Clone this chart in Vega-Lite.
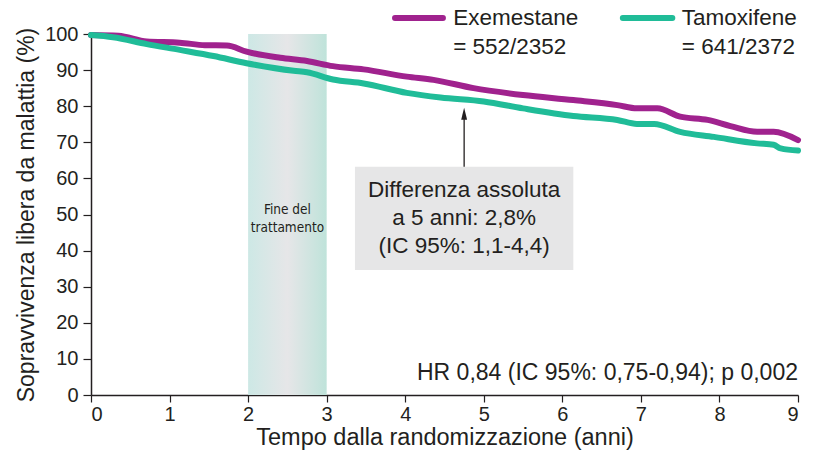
{
  "$schema": "https://vega.github.io/schema/vega-lite/v6.json",
  "width": 707,
  "height": 361,
  "autosize": "none",
  "padding": {"left": 91, "top": 34, "right": 35, "bottom": 64},
  "background": "white",
  "config": {"view": {"stroke": null}, "font": "Liberation Sans"},
  "datasets": {
    "curves": [
      {"arm": "Exemestane", "t": 0, "v": 99.7},
      {"arm": "Exemestane", "t": 0.35, "v": 99.5},
      {"arm": "Exemestane", "t": 0.71, "v": 97.9},
      {"arm": "Exemestane", "t": 1.13, "v": 97.6},
      {"arm": "Exemestane", "t": 1.45, "v": 96.9},
      {"arm": "Exemestane", "t": 1.73, "v": 96.8},
      {"arm": "Exemestane", "t": 1.98, "v": 95.1},
      {"arm": "Exemestane", "t": 2.41, "v": 93.4},
      {"arm": "Exemestane", "t": 2.75, "v": 92.5},
      {"arm": "Exemestane", "t": 3.08, "v": 91.1},
      {"arm": "Exemestane", "t": 3.47, "v": 90.2},
      {"arm": "Exemestane", "t": 4.02, "v": 88.2},
      {"arm": "Exemestane", "t": 4.36, "v": 87.3},
      {"arm": "Exemestane", "t": 4.87, "v": 85.0},
      {"arm": "Exemestane", "t": 5.5, "v": 83.1},
      {"arm": "Exemestane", "t": 6.14, "v": 81.7},
      {"arm": "Exemestane", "t": 6.7, "v": 80.3},
      {"arm": "Exemestane", "t": 6.95, "v": 79.4},
      {"arm": "Exemestane", "t": 7.21, "v": 79.4},
      {"arm": "Exemestane", "t": 7.5, "v": 77.1},
      {"arm": "Exemestane", "t": 7.85, "v": 76.2},
      {"arm": "Exemestane", "t": 8.14, "v": 74.5},
      {"arm": "Exemestane", "t": 8.48, "v": 72.9},
      {"arm": "Exemestane", "t": 8.69, "v": 72.9},
      {"arm": "Exemestane", "t": 9.0, "v": 70.6},
      {"arm": "Tamoxifene", "t": 0, "v": 99.7},
      {"arm": "Tamoxifene", "t": 0.28, "v": 99.1},
      {"arm": "Tamoxifene", "t": 0.71, "v": 97.2},
      {"arm": "Tamoxifene", "t": 1.13, "v": 95.6},
      {"arm": "Tamoxifene", "t": 1.56, "v": 93.9},
      {"arm": "Tamoxifene", "t": 1.98, "v": 91.9},
      {"arm": "Tamoxifene", "t": 2.58, "v": 89.8},
      {"arm": "Tamoxifene", "t": 2.75, "v": 89.4},
      {"arm": "Tamoxifene", "t": 3.08, "v": 87.4},
      {"arm": "Tamoxifene", "t": 3.47, "v": 86.3},
      {"arm": "Tamoxifene", "t": 4.02, "v": 83.7},
      {"arm": "Tamoxifene", "t": 4.45, "v": 82.4},
      {"arm": "Tamoxifene", "t": 5.0, "v": 81.3},
      {"arm": "Tamoxifene", "t": 5.5, "v": 79.4},
      {"arm": "Tamoxifene", "t": 6.14, "v": 77.3},
      {"arm": "Tamoxifene", "t": 6.7, "v": 76.2},
      {"arm": "Tamoxifene", "t": 6.95, "v": 75.1},
      {"arm": "Tamoxifene", "t": 7.17, "v": 75.1},
      {"arm": "Tamoxifene", "t": 7.5, "v": 72.9},
      {"arm": "Tamoxifene", "t": 7.93, "v": 71.5},
      {"arm": "Tamoxifene", "t": 8.48, "v": 69.7},
      {"arm": "Tamoxifene", "t": 8.69, "v": 69.3},
      {"arm": "Tamoxifene", "t": 8.78, "v": 68.3},
      {"arm": "Tamoxifene", "t": 9.0, "v": 67.7}
    ],
    "legendLines": [
      {"arm": "Exemestane", "t": 3.87, "t2": 4.48, "v": 104.4},
      {"arm": "Tamoxifene", "t": 6.77, "t2": 7.40, "v": 104.4}
    ],
    "legendText": [
      {"t": 4.61, "v": 104.4, "label": "Exemestane"},
      {"t": 4.61, "v": 96.5, "label": "= 552/2352"},
      {"t": 7.52, "v": 104.4, "label": "Tamoxifene"},
      {"t": 7.52, "v": 96.5, "label": "= 641/2372"}
    ]
  },
  "encoding": {
    "x": {"field": "t", "type": "quantitative", "scale": {"domain": [0, 9], "nice": false},
      "axis": {"values": [0,1,2,3,4,5,6,7,8,9], "tickCount": 20, "format": "d", "labelOverlap": false, "title": "Tempo dalla randomizzazione (anni)", "grid": false,
        "labelFont": "Liberation Sans", "labelFontSize": 20, "labelColor": "#231f20", "labelPadding": 2,
        "tickColor": "#231f20", "tickSize": 7, "tickWidth": 1.2, "domainColor": "#231f20", "domainWidth": 1.5,
        "titleFont": "Liberation Sans", "titleFontSize": 23.5, "titleFontWeight": "normal", "titleColor": "#231f20", "titlePadding": 1}},
    "y": {"field": "v", "type": "quantitative", "scale": {"domain": [0, 100], "nice": false},
      "axis": {"values": [0,10,20,30,40,50,60,70,80,90,100], "tickCount": 20, "format": "d", "labelOverlap": false, "title": "Sopravvivenza libera da malattia (%)", "grid": false,
        "labelFont": "Liberation Sans", "labelFontSize": 20, "labelColor": "#231f20", "labelPadding": 5,
        "tickColor": "#231f20", "tickSize": 8, "tickWidth": 1.2, "domainColor": "#231f20", "domainWidth": 1.5,
        "titleFont": "Liberation Sans", "titleFontSize": 23, "titleFontWeight": "normal", "titleColor": "#231f20", "titlePadding": 6}}
  },
  "layer": [
    {
      "data": {"values": [{"t": 2, "t2": 3, "v": 0, "v2": 100}]},
      "mark": {"type": "rect", "fill": {"gradient": "linear", "x1": 0, "x2": 1, "y1": 0, "y2": 0, "stops": [{"offset": 0, "color": "#cde8e5"}, {"offset": 0.5, "color": "#e6e6e8"}, {"offset": 1, "color": "#bfe3da"}]}},
      "encoding": {"x2": {"field": "t2"}, "y2": {"field": "v2"}}
    },
    {
      "data": {"values": [{"t": 2.5, "v": 51.2, "label": "Fine del\ntrattamento"}]},
      "mark": {"type": "text", "font": "DejaVu Sans Condensed, Liberation Sans Narrow, Roboto Condensed, sans-serif", "fontSize": 13.5, "lineBreak": "\n", "lineHeight": 18, "align": "center", "baseline": "middle", "color": "#231f20"},
      "encoding": {"text": {"field": "label"}}
    },
    {
      "data": {"values": [{"t": 3.36, "t2": 6.14, "v": 34.6, "v2": 63.2}]},
      "mark": {"type": "rect", "color": "#e6e6e7"},
      "encoding": {"x2": {"field": "t2"}, "y2": {"field": "v2"}}
    },
    {
      "data": {"values": [{"t": 4.75, "v": 56.8, "label": "Differenza assoluta\na 5 anni: 2,8%\n(IC 95%: 1,1-4,4)"}]},
      "mark": {"type": "text", "font": "Liberation Sans", "fontSize": 22.5, "lineBreak": "\n", "lineHeight": 28, "align": "center", "baseline": "middle", "color": "#231f20"},
      "encoding": {"text": {"field": "label"}}
    },
    {
      "data": {"values": [{"t": 4.75, "v": 63.2, "v2": 76.5}]},
      "mark": {"type": "rule", "color": "#231f20", "strokeWidth": 1.3},
      "encoding": {"y2": {"field": "v2"}}
    },
    {
      "data": {"values": [{"t": 4.75, "v": 77.9}]},
      "mark": {"type": "point", "shape": "M0,-1L0.5,1L-0.5,1Z", "size": 140, "filled": true, "color": "#231f20", "opacity": 1},
      "encoding": {}
    },
    {
      "data": {"name": "curves"},
      "mark": {"type": "line", "strokeWidth": 6, "interpolate": "monotone", "strokeCap": "round", "strokeJoin": "round"},
      "encoding": {
        "color": {"field": "arm", "type": "nominal", "scale": {"domain": ["Exemestane", "Tamoxifene"], "range": ["#a0228e", "#20bc98"]}, "legend": null},
        "detail": {"field": "arm"}
      }
    },
    {
      "data": {"values": [{"t": 9, "v": 6.1, "label": "HR 0,84 (IC 95%: 0,75-0,94); p 0,002"}]},
      "mark": {"type": "text", "font": "Liberation Sans", "fontSize": 23, "align": "right", "baseline": "middle", "color": "#231f20"},
      "encoding": {"text": {"field": "label"}}
    },
    {
      "data": {"name": "legendLines"},
      "mark": {"type": "rule", "strokeWidth": 6, "strokeCap": "round"},
      "encoding": {
        "x2": {"field": "t2"},
        "color": {"field": "arm", "type": "nominal", "legend": null}
      }
    },
    {
      "data": {"name": "legendText"},
      "mark": {"type": "text", "font": "Liberation Sans", "fontSize": 22.5, "align": "left", "baseline": "middle", "color": "#231f20"},
      "encoding": {"text": {"field": "label"}}
    }
  ]
}
